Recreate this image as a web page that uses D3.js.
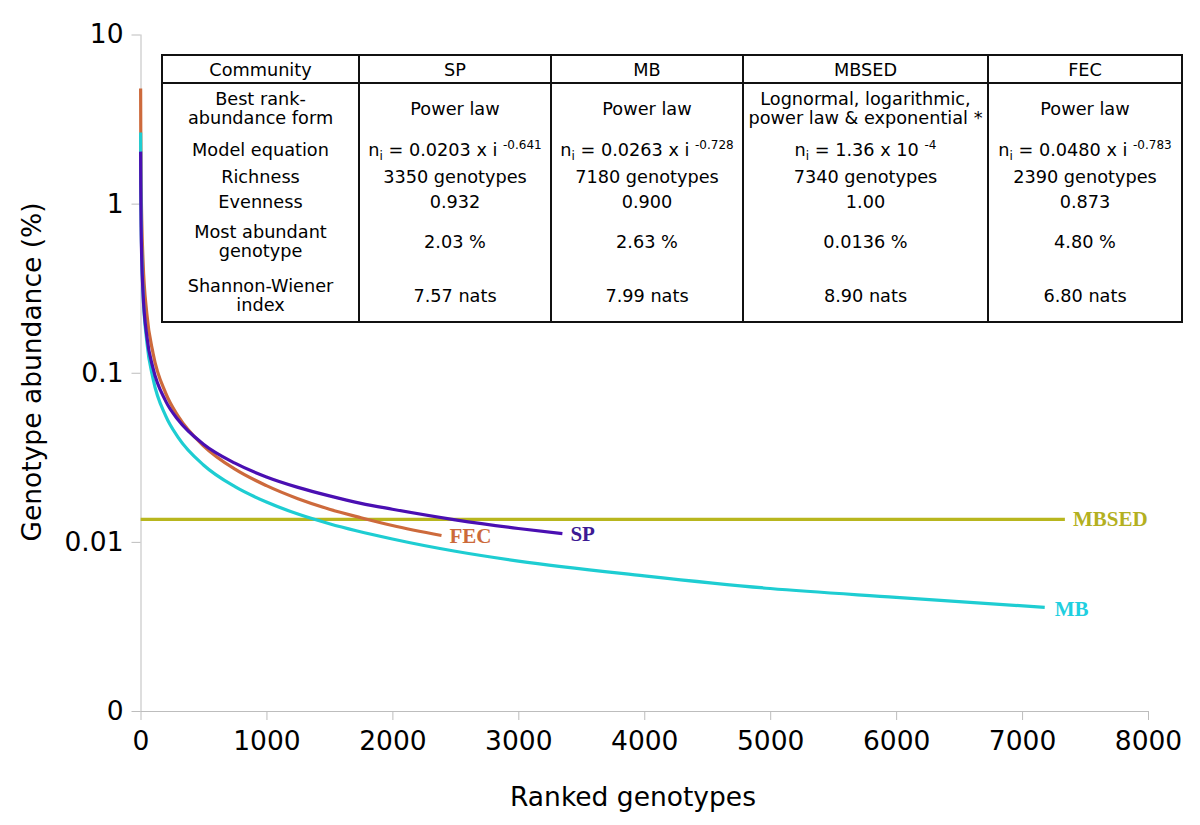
<!DOCTYPE html>
<html><head><meta charset="utf-8">
<script src="https://cdn.jsdelivr.net/npm/d3@7"></script>
<style>body{margin:0;background:#fff}</style>
</head><body><svg id="c" width="1200" height="825"></svg>
<script>
// ---- data ----
const spRanks  = [1,2,5,10,20,50,100,200,300,500,750,1000,1250,1500,1750,2000,2500,3000,3350];
const spVals   = [2.03,1.30,0.724,0.464,0.298,0.165,0.106,0.068,0.0525,0.0378,0.0292,0.0242,0.0210,0.0187,0.0169,0.0156,0.0135,0.0120,0.0112];
const mbRanks  = [1,2,5,10,20,50,100,200,300,500,750,1000,1250,1500,2000,2500,3000,4000,5000,6000,7180];
const mbVals   = [2.63,1.59,0.815,0.492,0.297,0.153,0.092,0.0556,0.0414,0.0285,0.0212,0.0172,0.0146,0.0128,0.0104,0.0088,0.0077,0.0063,0.0053,0.0047,0.0041];
const fecRanks = [1,2,5,10,20,50,100,200,300,500,750,1000,1250,1500,1750,2000,2390];
const fecVals  = [4.80,2.79,1.36,0.791,0.460,0.224,0.130,0.0758,0.0552,0.0370,0.0269,0.0215,0.0180,0.0156,0.0139,0.0125,0.0109];
const mbsedRanks = [1,7340];
const mbsedVals  = [0.0136,0.0136];
const seriesNames = ["MBSED","FEC","MB","SP"];
const xTicks = [0,1000,2000,3000,4000,5000,6000,7000,8000];
const yTicks = [0.001,0.01,0.1,1,10];
const yTickLabels = ["0","0.01","0.1","1","10"];

const tableHeader = ["Community","SP","MB","MBSED","FEC"];
const rowLabels = [["Best rank-","abundance form"],["Model equation"],["Richness"],["Evenness"],["Most abundant","genotype"],["Shannon-Wiener","index"]];
const bestForm = [["Power law"],["Power law"],["Lognormal, logarithmic,","power law & exponential *"],["Power law"]];
const modelCoef = ["0.0203 x i","0.0263 x i","1.36 x 10","0.0480 x i"];
const modelExp  = ["-0.641","-0.728","-4","-0.783"];
const richness = ["3350 genotypes","7180 genotypes","7340 genotypes","2390 genotypes"];
const evenness = ["0.932","0.900","1.00","0.873"];
const mostAbundant = ["2.03 %","2.63 %","0.0136 %","4.80 %"];
const shannon = ["7.57 nats","7.99 nats","8.90 nats","6.80 nats"];

// ---- drawing ----
const svg = d3.select("#c");
const font = "DejaVu Sans";
const x = d3.scaleLinear().domain([0,8000]).range([140.5,1148]);
const y = d3.scaleLog().domain([0.001,10]).range([711,34.5]);
const axisCol = "#bdbdbd";

// axes
const gx = svg.append("g").attr("transform","translate(0,711)")
  .call(d3.axisBottom(x).tickValues(xTicks).tickSize(9).tickPadding(11).tickFormat(d3.format("d")));
gx.select(".domain").attr("stroke",axisCol).attr("d","M140.5,0.5H1148");
gx.selectAll(".tick line").attr("stroke",axisCol);
gx.selectAll("text").attr("font-family",font).attr("font-size",26.5).attr("fill","#000");

const gy = svg.append("g").attr("transform","translate(140.5,0)")
  .call(d3.axisLeft(y).tickValues(yTicks).tickSize(9).tickPadding(8).tickFormat((d,i)=>yTickLabels[i]));
gy.select(".domain").attr("stroke",axisCol).attr("d","M0.5,34.5V711");
gy.selectAll(".tick line").attr("stroke",axisCol);
gy.selectAll("text").attr("font-family",font).attr("font-size",26.5).attr("fill","#000");

svg.append("text").attr("x",633).attr("y",806).attr("text-anchor","middle")
  .attr("font-family",font).attr("font-size",26.5).text("Ranked genotypes");
svg.append("text").attr("transform","translate(41,372) rotate(-90)").attr("text-anchor","middle")
  .attr("font-family",font).attr("font-size",26.5).text("Genotype abundance (%)");

// lines
const series = {
  MBSED:{r:mbsedRanks,v:mbsedVals,color:"#b8b61e",label:"#b3b01f",dy:7},
  FEC:{r:fecRanks,v:fecVals,color:"#cd6a3c",label:"#cc6a3a",dy:7},
  MB:{r:mbRanks,v:mbVals,color:"#1ecdd2",label:"#1fcfe0",dy:9},
  SP:{r:spRanks,v:spVals,color:"#4a0fb2",label:"#3c1a94",dy:7}
};
const line = d3.line().x(d=>x(d[0])).y(d=>y(d[1])).curve(d3.curveMonotoneX);
seriesNames.forEach(name=>{
  const s = series[name];
  const pts = s.r.map((r,i)=>[r,s.v[i]]);
  svg.append("path").datum(pts).attr("d",line).attr("fill","none")
    .attr("stroke",s.color).attr("stroke-width",3.2);
  const last = pts[pts.length-1];
  svg.append("text").attr("x",x(last[0])+(name==="MB"?10:8)).attr("y",y(last[1])+s.dy)
    .attr("font-family","Liberation Serif").attr("font-weight","bold").attr("font-size",21)
    .attr("fill",s.label).text(name);
});

// table
const colX = [162,359,551,743,988,1182];
const tTop = 55, tHead = 83, tBot = 322;
const tg = svg.append("g");
tg.append("rect").attr("x",162).attr("y",tTop).attr("width",1182-162).attr("height",tBot-tTop)
  .attr("fill","#fff").attr("stroke","#111").attr("stroke-width",2);
tg.append("line").attr("x1",162).attr("x2",1182).attr("y1",tHead).attr("y2",tHead).attr("stroke","#111").attr("stroke-width",2);
colX.slice(1,-1).forEach(cx=>tg.append("line").attr("x1",cx).attr("x2",cx).attr("y1",tTop).attr("y2",tBot).attr("stroke","#111").attr("stroke-width",2));
const cxm = i => (colX[i]+colX[i+1])/2;
const fs = 17.7;
function cellText(i, cy, lines){
  const n = lines.length, lh = 18.5;
  lines.forEach((t,k)=>{
    tg.append("text").attr("x",cxm(i)).attr("y",cy + (k-(n-1)/2)*lh + 6.5)
      .attr("text-anchor","middle").attr("font-family",font).attr("font-size",fs).attr("fill","#000").text(t);
  });
}
tableHeader.forEach((h,i)=>cellText(i,69,[h]));
const rowY = [108,149,176,201,241,295];
rowLabels.forEach((l,k)=>cellText(0,rowY[k],l));
bestForm.forEach((l,i)=>cellText(i+1,rowY[0],l));
richness.forEach((t,i)=>cellText(i+1,rowY[2],[t]));
evenness.forEach((t,i)=>cellText(i+1,rowY[3],[t]));
mostAbundant.forEach((t,i)=>cellText(i+1,rowY[4],[t]));
shannon.forEach((t,i)=>cellText(i+1,rowY[5],[t]));
modelCoef.forEach((c,i)=>{
  const t = tg.append("text").attr("x",cxm(i+1)).attr("y",rowY[1]+6.5).attr("text-anchor","middle")
    .attr("font-family",font).attr("font-size",fs).attr("fill","#000");
  t.append("tspan").text("n");
  t.append("tspan").attr("font-size",12).attr("dy",4).text("i");
  t.append("tspan").attr("dy",-4).text(" = "+c+" ");
  t.append("tspan").attr("font-size",12).attr("dy",-7).text(modelExp[i]);
});
</script></body></html>
